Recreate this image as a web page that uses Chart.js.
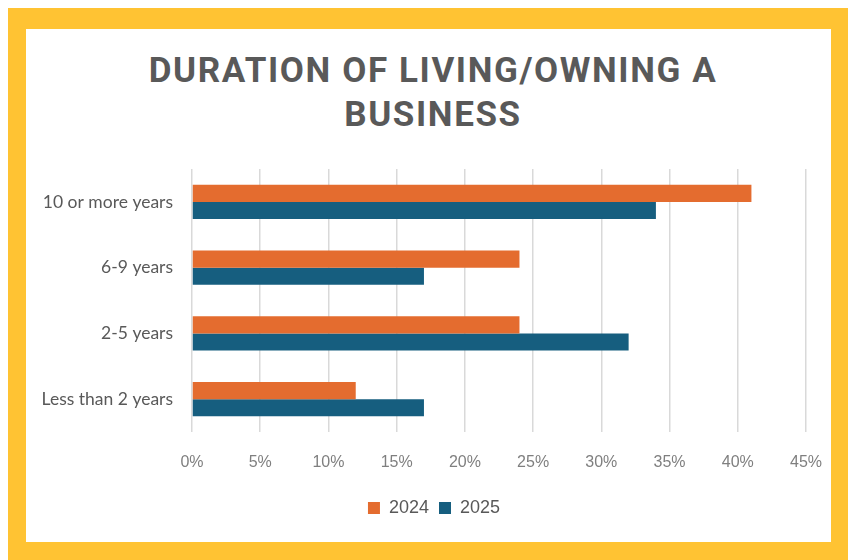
<!DOCTYPE html>
<html>
<head>
<meta charset="utf-8">
<script src="https://cdn.jsdelivr.net/npm/chart.js@4.4.1/dist/chart.umd.min.js"></script>
<style>
  html, body { margin: 0; padding: 0; background: #fff; }
  #wrap { position: relative; width: 853px; height: 560px; overflow: hidden; }
  #frame { position: absolute; left: 8px; top: 8px; width: 840px; height: 552px; background: #FFC333; }
  #inner { position: absolute; left: 26px; top: 29px; width: 805px; height: 513px; background: #fff; }
  #title {
    position: absolute; left: 0; top: 49px; width: 866px;
    text-align: center; font-family: Roboto, sans-serif; font-weight: 700;
    font-size: 35px; line-height: 44px; letter-spacing: 1.6px; color: #595959;
  }
  #durationChart { position: absolute; left: 0; top: 0; }
</style>
</head>
<body>
<div id="wrap">
  <div id="frame"></div>
  <div id="inner"></div>
  <div id="title">DURATION OF LIVING/OWNING A<br>BUSINESS</div>
  <canvas id="durationChart" width="853" height="560"></canvas>
</div>
<script>
const categories = ['10 or more years', '6-9 years', '2-5 years', 'Less than 2 years'];
const values2024 = [41, 24, 24, 12];
const values2025 = [34, 17, 32, 17];
const xTicks = [0, 5, 10, 15, 20, 25, 30, 35, 40, 45];

// nudge the legend box so it sits centred under the bars rather than the canvas
const legendShift = {
    id: 'legendShift',
    afterLayout(chart) {
        chart.legend.left += 36;
    }
};

const durationChart = new Chart(document.getElementById('durationChart'), {
    type: 'bar',
    data: {
        labels: categories,
        datasets: [{
            label: '2024',
            data: values2024,
            backgroundColor: '#E46C2F'
        }, {
            label: '2025',
            data: values2025,
            backgroundColor: '#165E7F'
        }]
    },
    options: {
        indexAxis: 'y',
        responsive: false,
        animation: false,
        devicePixelRatio: 1,
        categoryPercentage: 0.52,
        barPercentage: 1,
        layout: { padding: { left: 26, right: 47, top: 169, bottom: 33 } },
        scales: {
            x: {
                min: 0,
                max: 45,
                afterBuildTicks: (scale) => { scale.ticks = xTicks.map(v => ({ value: v })); },
                afterFit: (scale) => { scale.height = 57; },
                border: { display: false },
                grid: { color: '#D9D9D9', lineWidth: 1.5, drawTicks: false },
                ticks: {
                    padding: 21,
                    color: '#7F7F7F',
                    font: { family: '"Liberation Sans", sans-serif', size: 16 },
                    callback: (v) => v + '%'
                }
            },
            y: {
                afterFit: (scale) => { scale.width = 166; },
                border: { display: false },
                grid: { display: false, drawTicks: false },
                ticks: {
                    padding: 19,
                    color: '#595959',
                    font: { family: 'Lato, sans-serif', size: 17.5 }
                }
            }
        },
        plugins: {
            legend: {
                position: 'bottom',
                labels: {
                    boxWidth: 12,
                    boxHeight: 12,
                    padding: 10,
                    color: '#595959',
                    font: { family: '"Liberation Sans", sans-serif', size: 18 }
                }
            },
            tooltip: { enabled: false }
        }
    },
    plugins: [legendShift]
});
</script>
</body>
</html>
